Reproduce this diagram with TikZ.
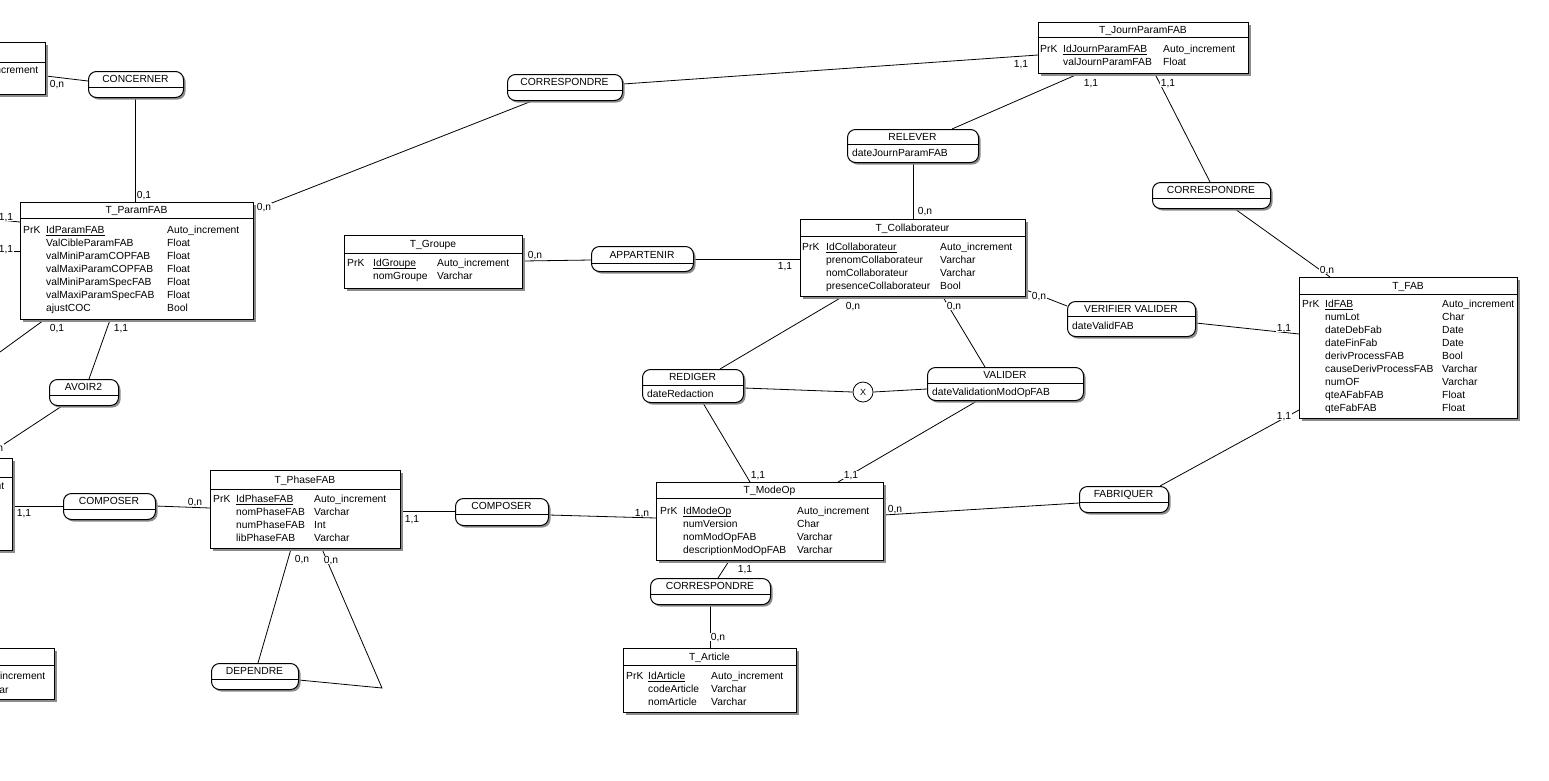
\documentclass[tikz,border=0pt]{standalone}
\usepackage{fontspec}
\setmainfont{Liberation Sans}
\usetikzlibrary{shadows}
\pgfdeclarelayer{bg}
\pgfsetlayers{bg,main}
\newcommand\mcdfont{\fontsize{10.3}{13}\selectfont}
\newcommand\pkey[1]{\underline{\smash{#1}}}
% entity: name, x1, y1, x2, y2, separator y, title
\newcommand\entbox[7]{%
  \node[ent, anchor=north west, minimum width={(#4-(#2))*1pt}, minimum height={(#5-(#3))*1pt}] (#1) at (#2,#3) {};
  \draw[boxline] (#1.west |- 0,#6) -- (#1.east |- 0,#6);
  \node[ttl] (#1-t) at ({(#2+#4)/2},{(#3+#6)/2}) {#7};
}
% association: name, x1, y1, x2, y2, separator y, title, attribute
\newcommand\assobox[8]{%
  \node[asso, anchor=north west, minimum width={(#4-(#2))*1pt}, minimum height={(#5-(#3))*1pt}] (#1) at (#2,#3) {};
  \draw[boxline] (#1.west |- 0,#6) -- (#1.east |- 0,#6);
  \node[ttl] (#1-t) at ({(#2+#4)/2},{(#3+#6)/2}) {#7};
  \node[ttl, anchor=west] (#1-a) at ({#2+5},{(#6+#5)/2}) {#8};
}
\begin{document}
\begin{tikzpicture}[x=1pt,y=-1pt,
  every node/.style={font=\mcdfont, inner sep=0pt},
  ent/.style={draw, fill=white, line width=1pt,
    drop shadow={shadow xshift=2pt, shadow yshift=-2pt, fill=black!45, opacity=1}},
  asso/.style={draw, fill=white, line width=1pt, rounded corners=8pt,
    drop shadow={shadow xshift=2pt, shadow yshift=-2pt, fill=black!45, opacity=1}},
  boxline/.style={line width=1pt},
  lnk/.style={line width=0.8pt},
  ttl/.style={text height=7.4pt, text depth=0pt},
  card/.style={fill=white, inner sep=0.6pt, text height=7.4pt, text depth=0pt},
  body/.style={anchor=north west},
]
\useasboundingbox (0,0) rectangle (1549,780);
\begin{pgfonlayer}{bg}
\fill[white] (0,0) rectangle (1549,780);
\end{pgfonlayer}

% ---------- entities ----------
\entbox{e0}{-200}{42}{45}{94}{62}{}
\node[anchor=west] (e0-r1) at (-34,71) {Auto\_increment};

\entbox{pf}{20}{202}{253}{319}{218}{T\_ParamFAB}
\node[body] (pf-b) at (23,224.4) {\begin{tabular}{@{}p{23pt}@{}p{121pt}@{}l@{}}
PrK & \pkey{IdParamFAB} & Auto\_increment\\
 & ValCibleParamFAB & Float\\
 & valMiniParamCOPFAB & Float\\
 & valMaxiParamCOPFAB & Float\\
 & valMiniParamSpecFAB & Float\\
 & valMaxiParamSpecFAB & Float\\
 & ajustCOC & Bool
\end{tabular}};

\entbox{e1}{-200}{458}{12}{550}{477}{}
\node[anchor=west] (e1-r1) at (-68,487) {Auto\_increment};

\entbox{e2}{-200}{648}{54}{699}{665}{}
\node[anchor=west] (e2-r1) at (-27,677) {Auto\_increment};
\node[anchor=west] (e2-r2) at (-27,690) {Varchar};

\entbox{phase}{210}{470}{400}{548}{489}{T\_PhaseFAB}
\node[body] (phase-b) at (213,493.4) {\begin{tabular}{@{}p{23pt}@{}p{78pt}@{}l@{}}
PrK & \pkey{IdPhaseFAB} & Auto\_increment\\
 & nomPhaseFAB & Varchar\\
 & numPhaseFAB & Int\\
 & libPhaseFAB & Varchar
\end{tabular}};

\entbox{groupe}{344}{235}{522}{288}{253}{T\_Groupe}
\node[body] (groupe-b) at (347,257.4) {\begin{tabular}{@{}p{26pt}@{}p{64pt}@{}l@{}}
PrK & \pkey{IdGroupe} & Auto\_increment\\
 & nomGroupe & Varchar
\end{tabular}};

\entbox{collab}{800}{219}{1025}{296}{236}{T\_Collaborateur}
\node[body] (collab-b) at (802,241.4) {\begin{tabular}{@{}p{24pt}@{}p{114pt}@{}l@{}}
PrK & \pkey{IdCollaborateur} & Auto\_increment\\
 & prenomCollaborateur & Varchar\\
 & nomCollaborateur & Varchar\\
 & presenceCollaborateur & Bool
\end{tabular}};

\entbox{journ}{1038}{22}{1248}{73}{37}{T\_JournParamFAB}
\node[body] (journ-b) at (1040,43.4) {\begin{tabular}{@{}p{23pt}@{}p{100pt}@{}l@{}}
PrK & \pkey{IdJournParamFAB} & Auto\_increment\\
 & valJournParamFAB & Float
\end{tabular}};

\entbox{fab}{1299}{277}{1517}{418}{294}{T\_FAB}
\node[body] (fab-b) at (1302,298.4) {\begin{tabular}{@{}p{23pt}@{}p{117pt}@{}l@{}}
PrK & \pkey{IdFAB} & Auto\_increment\\
 & numLot & Char\\
 & dateDebFab & Date\\
 & dateFinFab & Date\\
 & derivProcessFAB & Bool\\
 & causeDerivProcessFAB & Varchar\\
 & numOF & Varchar\\
 & qteAFabFAB & Float\\
 & qteFabFAB & Float
\end{tabular}};

\entbox{modeop}{656}{482}{883}{560}{498}{T\_ModeOp}
\node[body] (modeop-b) at (660,505.4) {\begin{tabular}{@{}p{23pt}@{}p{114pt}@{}l@{}}
PrK & \pkey{IdModeOp} & Auto\_increment\\
 & numVersion & Char\\
 & nomModOpFAB & Varchar\\
 & descriptionModOpFAB & Varchar
\end{tabular}};

\entbox{article}{623}{648}{796}{712}{665}{T\_Article}
\node[body] (article-b) at (626,670.4) {\begin{tabular}{@{}p{22pt}@{}p{63pt}@{}l@{}}
PrK & \pkey{IdArticle} & Auto\_increment\\
 & codeArticle & Varchar\\
 & nomArticle & Varchar
\end{tabular}};

% ---------- associations ----------
\assobox{concerner}{88}{71}{183}{97}{87}{CONCERNER}{}
\assobox{corr1}{507}{74}{622}{100}{90}{CORRESPONDRE}{}
\assobox{relever}{847}{129}{978}{162}{144}{RELEVER}{dateJournParamFAB}
\assobox{corr2}{1152}{182}{1270}{208}{198}{CORRESPONDRE}{}
\assobox{appartenir}{591}{246}{693}{271}{263}{APPARTENIR}{}
\assobox{verifier}{1067}{301}{1195}{336}{316}{VERIFIER VALIDER}{dateValidFAB}
\assobox{avoir2}{49}{379}{118}{405}{395}{AVOIR2}{}
\assobox{rediger}{642}{369}{743}{402}{385}{REDIGER}{dateRedaction}
\assobox{valider}{927}{367}{1083}{400}{383}{VALIDER}{dateValidationModOpFAB}
\assobox{composer1}{63}{493}{155}{519}{509}{COMPOSER}{}
\assobox{composer2}{455}{498}{548}{525}{514}{COMPOSER}{}
\assobox{fabriquer}{1079}{486}{1168}{512}{502}{FABRIQUER}{}
\assobox{corr3}{650}{578}{770}{604}{594}{CORRESPONDRE}{}
\assobox{dependre}{211}{663}{298}{689}{679}{DEPENDRE}{}

\node[draw, circle, fill=white, line width=0.8pt, minimum size=20pt, font=\fontsize{9}{10}\selectfont] (xc) at (863,392) {X};

% free ends
\coordinate (s1) at (0,220);
\coordinate (s2) at (0,251);
\coordinate (s3) at (0,352);
\coordinate (bend) at (382,688);

% ---------- connectors ----------
\begin{pgfonlayer}{bg}
\draw[lnk] (e0.east |- 0,76) -- (concerner.west |- 0,81);
\draw[lnk] (concerner.south -| 135,0) -- (pf.north -| 135,0);
\draw[lnk] (s1) -- (pf.west |- 0,222);
\draw[lnk] (s2) -- (pf.west |- 0,251);
\draw[lnk] (s3) -- (pf.south -| 44,0);
\draw[lnk] (pf.south -| 110,0) -- (avoir2.north -| 89,0);
\draw[lnk] (avoir2.south -| 62,0) -- (e1.north -| -17,0);
\draw[lnk] (e1.east |- 0,506) -- (composer1.west |- 0,506);
\draw[lnk] (composer1.east |- 0,506) -- (phase.west |- 0,508);
\draw[lnk] (phase.east |- 0,511) -- (composer2.west |- 0,511);
\draw[lnk] (composer2.east |- 0,515) -- (modeop.west |- 0,518);
\draw[lnk] (modeop.east |- 0,515) -- (fabriquer.west |- 0,503);
\draw[lnk] (fabriquer.north -| 1160,0) -- (fab.west |- 0,410);
\draw[lnk] (collab.east |- 0,290) -- (verifier.west |- 0,306);
\draw[lnk] (verifier.east |- 0,323) -- (fab.west |- 0,334);
\draw[lnk] (groupe.east |- 0,261) -- (appartenir.west |- 0,260);
\draw[lnk] (appartenir.east |- 0,259) -- (collab.west |- 0,259);
\draw[lnk] (relever.south -| 913,0) -- (collab.north -| 913,0);
\draw[lnk] (journ.south -| 1078,0) -- (relever.north -| 952,0);
\draw[lnk] (journ.south -| 1155,0) -- (corr2.north -| 1210,0);
\draw[lnk] (corr2.south -| 1235,0) -- (fab.north -| 1330,0);
\draw[lnk] (corr1.east |- 0,84) -- (journ.west |- 0,55);
\draw[lnk] (corr1.south -| 532,0) -- (pf.east |- 0,210);
\draw[lnk] (collab.south -| 842,0) -- (rediger.north -| 720,0);
\draw[lnk] (collab.south -| 943,0) -- (valider.north -| 985,0);
\draw[lnk] (rediger.east |- 0,388) -- (xc.west);
\draw[lnk] (xc.east) -- (valider.west |- 0,389);
\draw[lnk] (rediger.south -| 703,0) -- (modeop.north -| 750,0);
\draw[lnk] (valider.south -| 977,0) -- (modeop.north -| 838,0);
\draw[lnk] (modeop.south -| 729,0) -- (corr3.north -| 718,0);
\draw[lnk] (corr3.south -| 710,0) -- (article.north -| 710,0);
\draw[lnk] (phase.south -| 291,0) -- (dependre.north -| 258,0);
\draw[lnk] (phase.south -| 322,0) -- (bend) -- (dependre.east |- 0,680);
\end{pgfonlayer}

% ---------- cardinalities ----------
\node[card] (c1) at (57,84) {0,n};
\node[card] (c2) at (144,195) {0,1};
\node[card] (c3) at (6,217) {1,1};
\node[card] (c4) at (6,249) {1,1};
\node[card] (c5) at (57,328) {0,1};
\node[card] (c6) at (121,328) {1,1};
\node[card] (c7) at (-4,448) {0,n};
\node[card] (c8) at (24,513) {1,1};
\node[card] (c9) at (195,502) {0,n};
\node[card] (c10) at (412,519) {1,1};
\node[card] (c11) at (642,513) {1,n};
\node[card] (c12) at (895,509) {0,n};
\node[card] (c13) at (1284,416) {1,1};
\node[card] (c14) at (1039,296) {0,n};
\node[card] (c15) at (1284,328) {1,1};
\node[card] (c16) at (535,255) {0,n};
\node[card] (c17) at (785,266) {1,1};
\node[card] (c18) at (925,211) {0,n};
\node[card] (c19) at (1091,83) {1,1};
\node[card] (c20) at (1168,83) {1,1};
\node[card] (c21) at (1327,270) {0,n};
\node[card] (c22) at (1021,64) {1,1};
\node[card] (c23) at (264,207) {0,n};
\node[card] (c24) at (853,306) {0,n};
\node[card] (c25) at (954,306) {0,n};
\node[card] (c26) at (758,475) {1,1};
\node[card] (c27) at (851,475) {1,1};
\node[card] (c28) at (745,569) {1,1};
\node[card] (c29) at (718,637) {0,n};
\node[card] (c30) at (302,559) {0,n};
\node[card] (c31) at (331,560) {0,n};
\end{tikzpicture}
\end{document}
